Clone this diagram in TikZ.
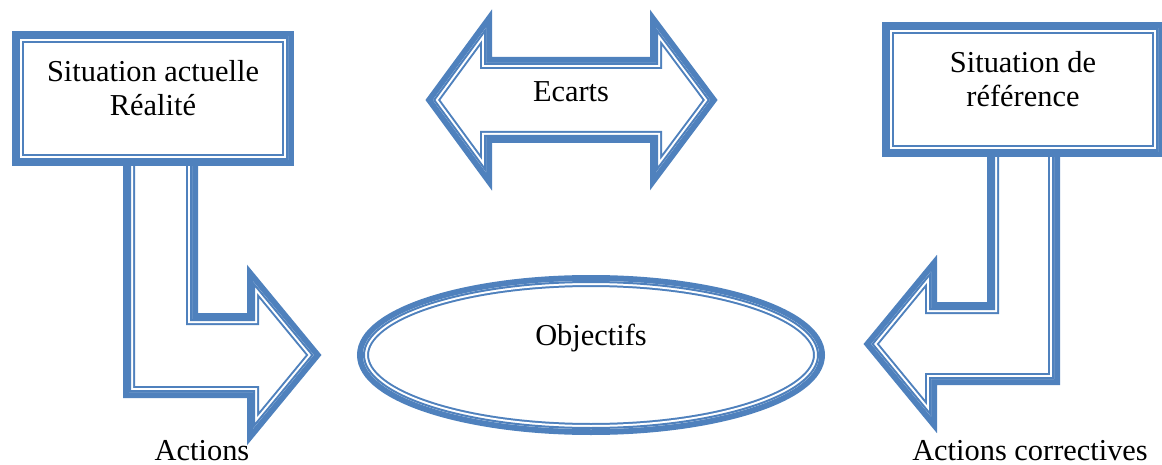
\documentclass[tikz,border=0pt]{standalone}
\usepackage{fontspec}
\setmainfont{Liberation Serif}
\usepackage{tikz}
\usetikzlibrary{shapes.geometric,positioning}

\definecolor{ocblue}{RGB}{79,129,189}

% thick-thin outline for block arrows
\newcommand\bandpath[1]{%
    \filldraw[fill=white, draw=ocblue, line width=6pt] #1;
    \begin{scope}
        \clip #1;
        \draw[white, line width=4pt] #1;
        \draw[ocblue, line width=2pt] #1;
    \end{scope}}

\begin{document}
\begin{tikzpicture}[
    x=0.5pt, y=-0.5pt,
    txt/.style={font=\fontsize{15.2}{17.3}\selectfont, inner sep=0pt},
    frame/.style={rectangle, txt, fill=white, align=center, text depth=10.6pt,
        minimum width=135pt, minimum height=61.5pt,
        preaction={draw=ocblue, line width=6pt},
        path picture={
            \draw[ocblue, line width=6pt] (path picture bounding box.south west) rectangle (path picture bounding box.north east);
            \draw[white, line width=4pt] (path picture bounding box.south west) rectangle (path picture bounding box.north east);
            \draw[ocblue, line width=2pt] (path picture bounding box.south west) rectangle (path picture bounding box.north east);
        }},
    oval/.style={ellipse, txt, fill=white, text depth=20.4pt,
        minimum width=228pt, minimum height=74pt,
        preaction={draw=ocblue, line width=6pt},
        path picture={
            \draw[ocblue, line width=6pt] (path picture bounding box.center) ellipse (114pt and 37pt);
            \draw[white, line width=4pt] (path picture bounding box.center) ellipse (114pt and 37pt);
            \draw[ocblue, line width=2pt] (path picture bounding box.center) ellipse (114pt and 37pt);
        }}
]
    \useasboundingbox (0,0) rectangle (1162,465);

    % L-shaped arrows, boxes go on top of them
    \bandpath{(129,150) -- (129,392) -- (253,392) -- (253,428.6) -- (313.7,355) -- (253,281.4) -- (253,319) -- (192,319) -- (192,150) -- cycle}
    \bandpath{(1054,140) -- (1054,379) -- (931,379) -- (931,416.5) -- (871.3,344) -- (931,271.5) -- (931,308) -- (993,308) -- (993,140) -- cycle}

    % Situations
    \node[frame] (now) at (153,98.5) {Situation actuelle\\Réalité};
    \node[frame] (ref) at (1023,89.75) {Situation de\\référence};

    % Double arrow between them
    \bandpath{(432.9,100) -- (486,27.7) -- (486,63) -- (656,63) -- (656,27.7) -- (710.1,100) -- (656,172.3) -- (656,137) -- (486,137) -- (486,172.3) -- cycle}
    \node[txt, anchor=base] (gap) at (571,102) {Ecarts};

    \node[oval] (goal) at (591,355) {Objectifs};

    % Labels under the arrows
    \node[txt, anchor=base] (act) at (202,460) {Actions};
    \node[txt, anchor=base] (corr) at (1030,460) {Actions correctives};
\end{tikzpicture}
\end{document}
